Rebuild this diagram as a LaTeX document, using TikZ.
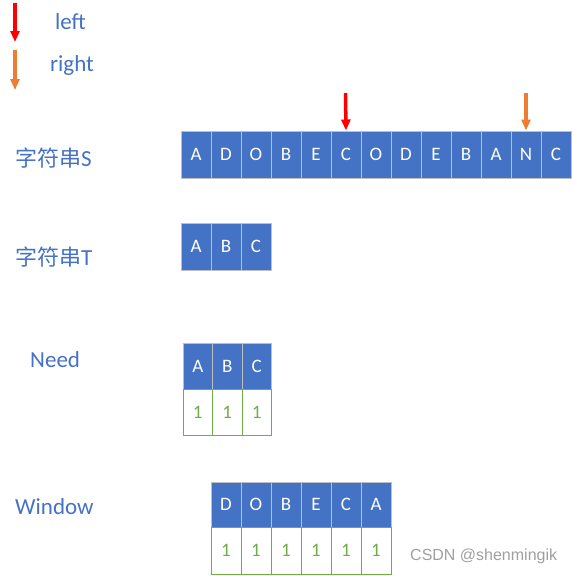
\documentclass[tikz,border=0pt]{standalone}
\usepackage{fontspec}
\setmainfont{Carlito}
\newfontfamily\cjk{Noto Sans CJK SC}
\newfontfamily\wmfont{Liberation Sans}
\usetikzlibrary{arrows.meta}
\definecolor{cellblue}{HTML}{4472C4}
\definecolor{labelblue}{HTML}{4472C4}
\definecolor{cellgreen}{HTML}{70AD47}
\definecolor{arrred}{HTML}{FF0000}
\definecolor{arrorange}{HTML}{ED7D31}
\definecolor{gridgray}{HTML}{BFBFBF}
\begin{document}
\begin{tikzpicture}[x=1pt,y=-1pt,
  bluecell/.style={fill=cellblue,draw=gridgray,line width=1pt,minimum width=30pt,minimum height=47pt,inner sep=0pt,text=white,font=\fontsize{19}{22}\selectfont},
  greencell/.style={fill=white,draw=cellgreen,line width=0.9pt,minimum width=29.5pt,minimum height=46pt,inner sep=0pt,text=cellgreen,font=\fontsize{19}{22}\selectfont},
  lbl/.style={text=labelblue,font=\fontsize{23}{27}\selectfont,inner sep=0pt},
  redarrow/.style={draw=arrred,line width=3.5pt,-{Triangle[width=9pt,length=11pt]}},
  orangearrow/.style={draw=arrorange,line width=3.5pt,-{Triangle[width=9pt,length=11pt]}}
]
\useasboundingbox (0,0) rectangle (572,576);

% legend
\coordinate (l1a) at (15,3);
\coordinate (l1b) at (15,42);
\draw[redarrow] (l1a) -- (l1b);
\node[lbl,anchor=west] (leftlbl) at (55,22) {left};
\coordinate (l2a) at (15,50);
\coordinate (l2b) at (15,90);
\draw[orangearrow] (l2a) -- (l2b);
\node[lbl,anchor=west] (rightlbl) at (50,65) {right};

% string S
\node[lbl,anchor=west] (labS) at (15,158) {{\cjk\fontsize{22}{26}\selectfont 字符串}S};
\foreach \ch [count=\i] in {A,D,O,B,E,C,O,D,E,B,A,N,C} {
  \node[bluecell] (s\i) at ({181+15+(\i-1)*30},154.5) {\ch};
}
\coordinate (pl) at (345.5,93);
\draw[redarrow] (pl) -- (s6.north);
\coordinate (pr) at (526,93);
\draw[orangearrow] (pr) -- (s12.north);

% string T
\node[lbl,anchor=west] (labT) at (15,257) {{\cjk\fontsize{22}{26}\selectfont 字符串}T};
\foreach \ch [count=\i] in {A,B,C} {
  \node[bluecell] (t\i) at ({181+15+(\i-1)*30},246.5) {\ch};
}

% Need
\node[lbl,anchor=west] (labN) at (30,360) {Need};
\foreach \ch [count=\i] in {A,B,C} {
  \node[bluecell,minimum width=29.5pt,minimum height=46pt] (n\i) at ({183+14.75+(\i-1)*29.5},366) {\ch};
  \node[greencell] (ng\i) at ({183+14.75+(\i-1)*29.5},412) {1};
}

% Window
\node[lbl,anchor=west] (labW) at (15,507) {Window};
\foreach \ch [count=\i] in {D,O,B,E,C,A} {
  \node[bluecell,minimum height=45pt] (w\i) at ({211+15+(\i-1)*30},504.5) {\ch};
  \node[greencell,minimum width=30pt,minimum height=47pt] (wg\i) at ({211+15+(\i-1)*30},550.5) {1};
}

% watermark
\node[anchor=west,text=gray!75,font=\wmfont\fontsize{16}{18}\selectfont,inner sep=0pt] (wm) at (410,556) {CSDN @shenmingik};
\end{tikzpicture}
\end{document}
